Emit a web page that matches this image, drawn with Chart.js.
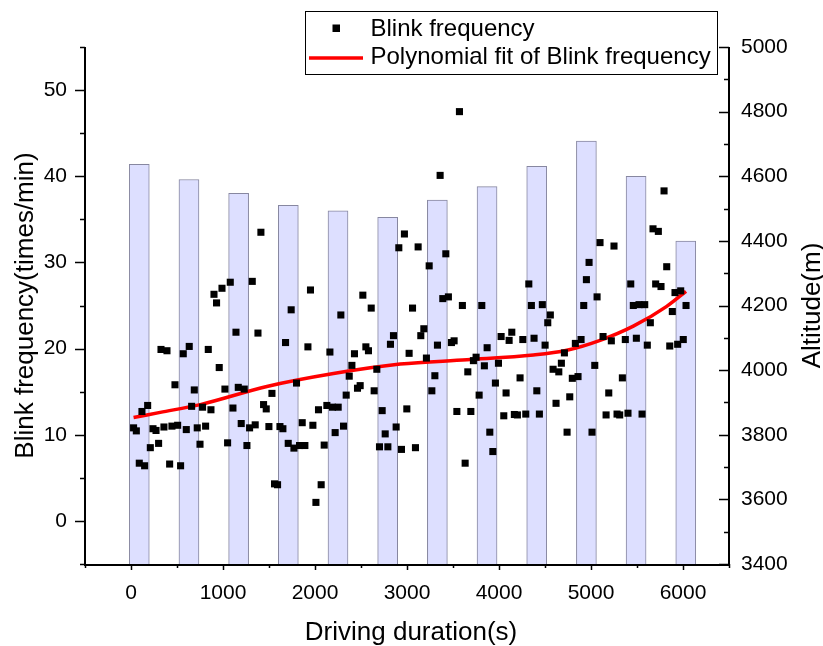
<!DOCTYPE html>
<html>
<head>
<meta charset="utf-8">
<script src="https://cdn.jsdelivr.net/npm/chart.js@4.4.0/dist/chart.umd.min.js"></script>
<style>
  html, body { margin: 0; padding: 0; background: #fff; }
  #wrap { width: 823px; height: 646px; }
</style>
</head>
<body>
<div id="wrap"><canvas id="chart" width="823" height="646"></canvas></div>
<script>
// blink samples (s, times/min)
const durations = [28, 58, 90, 119, 148, 181, 210, 239, 272, 300, 326, 358, 391, 420, 445, 478, 507, 539, 568, 601,
  633, 659, 688, 720, 750, 778, 811, 840, 869, 902, 930, 959, 989, 1021, 1050, 1079, 1108, 1141, 1166, 1198,
  1231, 1260, 1289, 1318, 1350, 1380, 1412, 1441, 1470, 1499, 1532, 1560, 1593, 1619, 1651, 1680, 1709, 1741, 1771, 1799,
  1832, 1861, 1890, 1923, 1951, 1977, 2010, 2038, 2067, 2100, 2129, 2162, 2190, 2219, 2252, 2281, 2310, 2339, 2372, 2401,
  2429, 2462, 2491, 2520, 2553, 2581, 2611, 2643, 2672, 2701, 2730, 2763, 2792, 2820, 2853, 2882, 2911, 2940, 2972, 2998,
  3023, 3060, 3092, 3121, 3150, 3183, 3211, 3241, 3270, 3303, 3331, 3360, 3389, 3422, 3450, 3483, 3512, 3542, 3570, 3602,
  3632, 3661, 3694, 3722, 3751, 3784, 3813, 3841, 3871, 3900, 3933, 3961, 3994, 4023, 4052, 4077, 4110, 4139, 4167, 4200,
  4229, 4259, 4291, 4324, 4352, 4381, 4411, 4439, 4471, 4501, 4530, 4558, 4588, 4620, 4650, 4678, 4711, 4740, 4769, 4797,
  4830, 4859, 4892, 4921, 4950, 4979, 5011, 5041, 5066, 5098, 5131, 5164, 5193, 5221, 5250, 5283, 5312, 5341, 5373, 5402,
  5432, 5460, 5493, 5522, 5555, 5584, 5612, 5645, 5674, 5703, 5732, 5761, 5794, 5823, 5856, 5884, 5913, 5942, 5975, 6003,
  6033];
const blinkRates = [10.8, 10.45, 6.7, 12.7, 6.4, 13.4, 8.5, 10.7, 10.5, 9.0, 19.9, 10.9, 19.75, 6.6, 11.0, 15.8, 11.1, 6.4, 19.4, 10.6,
  20.25, 13.3, 15.2, 10.8, 8.9, 13.2, 11.0, 19.9, 12.9, 26.3, 25.3, 17.8, 27.0, 15.3, 9.06, 27.7, 13.1, 21.9, 15.5, 11.3,
  15.3, 8.75, 10.8, 27.8, 11.15, 21.8, 33.5, 13.5, 13.0, 10.95, 14.8, 4.3, 4.2, 10.95, 10.7, 20.7, 9.0, 24.5, 8.45, 16.0,
  8.75, 11.4, 8.75, 20.2, 26.8, 11.1, 2.15, 12.9, 4.2, 8.8, 13.4, 19.6, 13.2, 10.25, 13.2, 23.9, 11.0, 14.6, 16.8, 18.05,
  19.4, 15.4, 15.7, 26.2, 20.2, 19.75, 24.7, 15.1, 17.6, 8.6, 12.8, 10.1, 8.6, 20.5, 21.5, 10.9, 31.7, 8.3, 33.3, 13.0,
  19.45, 24.7, 8.5, 31.8, 21.5, 22.3, 18.9, 29.6, 15.1, 16.85, 20.4, 40.1, 25.8, 31.0, 26.0, 20.7, 20.9, 12.7, 47.5, 25.0,
  6.7, 17.3, 12.7, 18.6, 19.0, 14.6, 25.0, 18.0, 20.1, 10.3, 8.05, 16.0, 18.3, 21.4, 12.2, 14.85, 20.95, 21.9, 12.35, 12.3,
  16.6, 21.05, 12.4, 27.5, 25.0, 21.2, 15.1, 12.4, 25.1, 20.4, 23.0, 23.9, 17.6, 13.65, 17.3, 18.3, 19.5, 10.3, 14.4, 16.55,
  20.6, 16.75, 21.05, 25.0, 28.0, 30.0, 10.3, 18.05, 26.0, 32.3, 21.4, 12.3, 14.85, 20.9, 31.9, 12.4, 12.3, 16.6, 21.05, 12.5,
  27.5, 25.0, 21.2, 25.1, 12.4, 25.1, 20.4, 23.0, 33.9, 27.5, 33.6, 27.2, 38.3, 29.5, 20.3, 24.3, 26.5, 20.5, 26.7, 21.05,
  25.0];

// polynomial fit
const fitDurations = [28, 318, 753, 1477, 2201, 2926, 3650, 4374, 4737, 5099, 5460, 5823, 6033];
const fitRates = [12.0, 12.6, 13.5, 15.6, 17.1, 18.2, 18.7, 19.25, 19.8, 20.95, 22.6, 24.9, 26.65];

// altitude bars
const barDurations = [90, 630, 1170, 1710, 2250, 2790, 3330, 3870, 4410, 4950, 5490, 6030];
const altitudes = [4637, 4590, 4547, 4510, 4493, 4473, 4526, 4568, 4631, 4709, 4600, 4399];

const FONT = '"Liberation Sans", Arial, sans-serif';

const toPoints = (xs, ys) => xs.map((x, i) => ({ x: x, y: ys[i] }));

const decor = {
  id: 'decor',
  afterDraw(chart) {
    const ctx = chart.ctx;
    const { left, right, top, bottom } = chart.chartArea;
    const sx = chart.scales.x, sy = chart.scales.y, sy2 = chart.scales.y2;
    ctx.save();
    ctx.strokeStyle = '#000';
    ctx.lineWidth = 2;
    ctx.beginPath();
    ctx.moveTo(left, top); ctx.lineTo(left, bottom + 1); ctx.lineTo(right, bottom + 1);
    ctx.moveTo(right, top); ctx.lineTo(right, bottom + 1);
    ctx.stroke();

    ctx.lineWidth = 1.5;
    ctx.beginPath();
    sx.ticks.forEach(t => {
      const p = Math.round(sx.getPixelForValue(t.value)) + 0.5;
      const len = t.value % 1000 === 0 ? 6 : 4;
      ctx.moveTo(p, bottom); ctx.lineTo(p, bottom + len);
    });
    sy.ticks.forEach(t => {
      const p = Math.round(sy.getPixelForValue(t.value)) + 0.5;
      const len = t.value % 10 === 0 ? 10 : 5;
      ctx.moveTo(left, p); ctx.lineTo(left - len, p);
    });
    sy2.ticks.forEach(t => {
      const p = Math.round(sy2.getPixelForValue(t.value)) + 0.5;
      const len = t.value % 200 === 0 ? 10 : 5;
      ctx.moveTo(right, p); ctx.lineTo(right - len, p);
    });
    ctx.stroke();

    // axis titles
    ctx.fillStyle = '#000';
    ctx.font = '26px ' + FONT;
    ctx.textAlign = 'center';
    ctx.textBaseline = 'alphabetic';
    ctx.fillText('Driving duration(s)', 411, 639.5);
    ctx.save();
    ctx.translate(32.5, (top + bottom) / 2);
    ctx.rotate(-Math.PI / 2);
    ctx.fillText('Blink frequency(times/min)', 0, 0);
    ctx.restore();
    ctx.save();
    ctx.translate(820, (top + bottom) / 2);
    ctx.rotate(-Math.PI / 2);
    ctx.fillText('Altitude(m)', 0, 0);
    ctx.restore();

    // legend box
    ctx.fillStyle = '#fff';
    ctx.fillRect(305.5, 11.5, 412, 63);
    ctx.strokeStyle = '#000';
    ctx.lineWidth = 1;
    ctx.strokeRect(305.5, 11.5, 412, 63);
    ctx.fillStyle = '#000';
    ctx.fillRect(332.5, 24.5, 7.5, 7.5);
    ctx.strokeStyle = '#ff0000';
    ctx.lineWidth = 3.5;
    ctx.beginPath();
    ctx.moveTo(309, 58); ctx.lineTo(363, 58);
    ctx.stroke();
    ctx.fillStyle = '#000';
    ctx.font = '24px ' + FONT;
    ctx.textAlign = 'left';
    ctx.fillText('Blink frequency', 370.5, 35.7);
    ctx.fillText('Polynomial fit of Blink frequency', 370.5, 63.5);
    ctx.restore();
  }
};

new Chart(document.getElementById('chart'), {
  type: 'scatter',
  data: {
    datasets: [
      {
        type: 'scatter',
        label: 'Blink frequency',
        data: toPoints(durations, blinkRates),
        yAxisID: 'y',
        pointStyle: 'rect',
        pointRadius: 5,
        pointBorderWidth: 0,
        backgroundColor: '#000',
        borderColor: '#000',
        order: 1
      },
      {
        type: 'line',
        label: 'Polynomial fit of Blink frequency',
        data: toPoints(fitDurations, fitRates),
        yAxisID: 'y',
        borderColor: '#ff0000',
        borderWidth: 3.5,
        pointRadius: 0,
        fill: false,
        showLine: true,
        cubicInterpolationMode: 'monotone',
        order: 2
      },
      {
        type: 'bar',
        label: 'Altitude',
        data: toPoints(barDurations, altitudes),
        yAxisID: 'y2',
        barThickness: 20,
        backgroundColor: 'rgb(221,223,255)',
        borderColor: 'rgb(135,135,160)',
        borderWidth: 1,
        borderSkipped: false,
        order: 3
      }
    ]
  },
  options: {
    responsive: false,
    animation: false,
    layout: { padding: { top: 47, left: 0, right: 0, bottom: 0 } },
    plugins: { legend: { display: false }, tooltip: { enabled: false } },
    scales: {
      x: {
        type: 'linear',
        position: 'bottom',
        offset: false,
        min: -500,
        max: 6500,
        afterFit: s => { s.height = 82; },
        grid: { display: false, drawTicks: false, offset: false },
        border: { display: false },
        ticks: {
          stepSize: 500,
          autoSkip: false,
          maxRotation: 0,
          padding: 17,
          color: '#000',
          font: { family: FONT, size: 21 },
          callback: v => (v % 1000 === 0 ? v : '')
        }
      },
      y: {
        type: 'linear',
        position: 'left',
        min: -5,
        max: 55,
        afterFit: s => { s.width = 85; },
        grid: { display: false, drawTicks: false },
        border: { display: false },
        ticks: {
          stepSize: 5,
          autoSkip: false,
          padding: 18,
          color: '#000',
          font: { family: FONT, size: 21 },
          callback: v => (v % 10 === 0 ? v : '')
        }
      },
      y2: {
        type: 'linear',
        position: 'right',
        min: 3400,
        max: 5000,
        afterFit: s => { s.width = 94; },
        grid: { display: false, drawTicks: false },
        border: { display: false },
        ticks: {
          stepSize: 100,
          autoSkip: false,
          padding: 12,
          color: '#000',
          font: { family: FONT, size: 21 },
          callback: v => (v % 200 === 0 ? v : '')
        }
      }
    }
  },
  plugins: [decor]
});
</script>
</body>
</html>
